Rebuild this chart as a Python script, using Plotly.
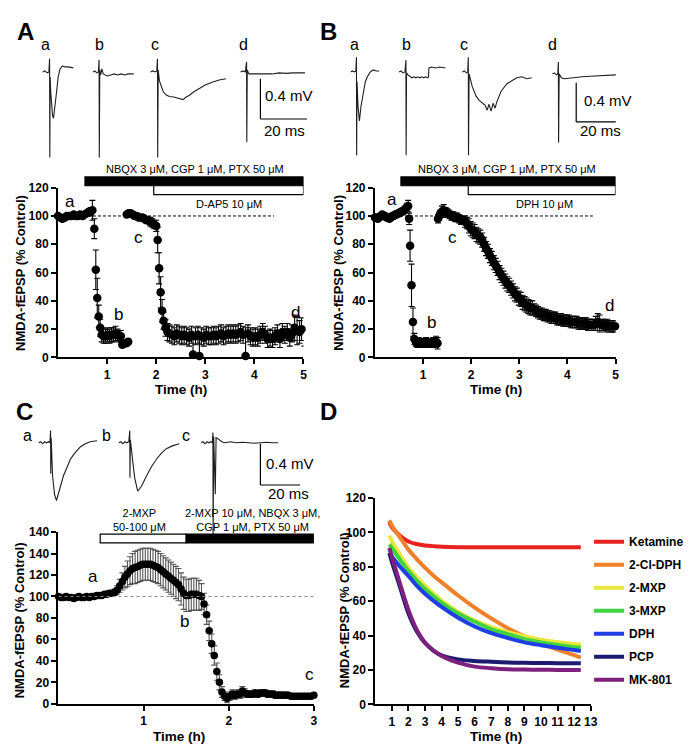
import plotly.graph_objects as go

FONT = "Liberation Sans, Arial, sans-serif"
W, H = 693, 744

# ---------------- Panel A : NMDA-fEPSP time course (D-AP5) ----------------
A_t = [0.00, 0.05, 0.09, 0.14, 0.18, 0.23, 0.27, 0.32, 0.36, 0.41, 0.45, 0.50, 0.54, 0.59, 0.63, 0.67, 0.70,
       0.74, 0.77, 0.80, 0.83, 0.86, 0.89, 0.93, 0.97, 1.01, 1.05, 1.09, 1.13, 1.17, 1.21, 1.25, 1.28, 1.31, 1.35, 1.39, 1.43,
       1.40, 1.44, 1.48, 1.52, 1.56, 1.60, 1.64, 1.68, 1.72, 1.76, 1.80, 1.84, 1.88, 1.92, 1.96, 2.00, 2.03, 2.06, 2.09, 2.12, 2.15, 2.19, 2.23,
       2.27, 2.32, 2.37, 2.42, 2.47, 2.52, 2.57, 2.62, 2.67, 2.72, 2.75, 2.80, 2.85, 2.88, 2.92, 2.97, 3.02, 3.07, 3.12, 3.17,
       3.22, 3.27, 3.32, 3.37, 3.42, 3.47, 3.52, 3.57, 3.62, 3.67, 3.72, 3.77, 3.82, 3.87, 3.92, 3.97, 4.02, 4.07, 4.12, 4.17,
       4.22, 4.27, 4.32, 4.37, 4.42, 4.47, 4.52, 4.57, 4.62, 4.67, 4.72, 4.77, 4.82, 4.87, 4.92, 4.96, 5.02]
A_y = [100, 99, 98, 99, 100, 100, 100, 101, 100, 100, 101, 100, 101, 102, 103, 103, 104,
       91, 62, 42, 29, 21, 16, 15, 15, 16, 15, 16, 16, 17, 16, 15, 15, 9, 10, 10, 11,
       101, 102, 102, 101, 100, 100, 99, 99, 99, 98, 97, 97, 96, 95, 94, 93, 83, 63, 46, 33, 26, 21, 18,
       17, 16, 15, 17, 16, 15, 16, 15, 14, 16, 2, 15, 16, 1, 15, 14, 16, 15, 15, 16,
       15, 16, 17, 15, 16, 17, 16, 17, 16, 17, 18, 16, 1, 17, 15, 14, 15, 14, 16, 18,
       16, 13, 14, 13, 15, 17, 13, 18, 16, 18, 14, 17, 21, 19, 18, 20, 10]
A_e = [1, 1, 1.5, 1, 1, 1, 1, 1, 1, 1.5, 1.5, 2, 2, 2, 2, 3, 7,
       7, 14, 14, 8, 6, 5, 5, 5, 5, 5, 5, 5, 5, 4, 4, 4, 2, 2, 2, 2,
       1.5, 1.5, 1.5, 2, 2, 2, 2, 2, 2, 2, 2, 2, 3, 3, 3, 4, 9, 11, 11, 8, 6, 6, 6,
       6, 6, 6, 6, 6, 6, 6, 6, 6, 6, 14, 6, 6, 13, 6, 6, 6, 6, 6, 6,
       6, 6, 6, 6, 6, 6, 6, 6, 6, 6, 6, 6, 20, 6, 6, 6, 6, 6, 6, 6,
       6, 6, 6, 6, 6, 6, 6, 6, 6, 6, 6, 6, 9, 10, 8, 8, 2]

# ---------------- Panel B : NMDA-fEPSP time course (DPH) ----------------
B_t = [0.00, 0.03, 0.06, 0.09, 0.12, 0.15, 0.18, 0.21, 0.24, 0.27, 0.30, 0.33, 0.36, 0.39, 0.42, 0.45, 0.48, 0.51, 0.54, 0.57, 0.60, 0.63, 0.66, 0.69,
       0.71, 0.73, 0.76, 0.79, 0.82, 0.85, 0.88, 0.91, 0.94, 0.97, 1.00, 1.03, 1.06, 1.09, 1.12, 1.15, 1.18, 1.21, 1.24, 1.27, 1.30,
       1.31, 1.35, 1.39, 1.43, 1.47, 1.51, 1.55, 1.59, 1.63, 1.67, 1.71, 1.75, 1.79, 1.83, 1.87, 1.91, 1.95, 1.99, 2.03, 2.07,
       2.11, 2.15, 2.19, 2.23, 2.27, 2.31, 2.35, 2.39, 2.43, 2.47, 2.51, 2.55, 2.59, 2.63, 2.67, 2.71, 2.75, 2.79, 2.83, 2.87,
       2.91, 2.95, 2.99, 3.03, 3.07, 3.11, 3.15, 3.19, 3.23, 3.27, 3.31, 3.35, 3.39, 3.43, 3.47, 3.51, 3.55, 3.59, 3.63, 3.67,
       3.71, 3.75, 3.79, 3.83, 3.87, 3.91, 3.95, 3.99, 4.03, 4.07, 4.11, 4.15, 4.19, 4.23, 4.27, 4.31, 4.35, 4.39, 4.43, 4.47,
       4.51, 4.55, 4.59, 4.63, 4.67, 4.71, 4.75, 4.79, 4.83, 4.87, 4.91, 4.95, 4.99]
B_y = [99, 99, 98, 99, 100, 101, 100, 100, 99, 99, 98, 99, 100, 100, 101, 101, 102, 102, 103, 103, 104, 105, 106, 107,
       98, 79, 51, 25, 13, 11, 10, 11, 10, 10, 10, 10, 11, 10, 10, 10, 10, 11, 10, 11, 10,
       98, 101, 103, 104, 103, 102, 101, 100, 100, 99, 99, 98, 97, 97, 96, 95, 93, 91, 90, 89,
       87, 86, 85, 83, 80, 77, 75, 72, 70, 67, 65, 63, 60, 58, 56, 54, 52, 51, 49, 47,
       45, 44, 42, 41, 39, 38, 37, 36, 35, 35, 34, 33, 32, 31, 31, 30, 30, 29, 29, 28,
       28, 28, 27, 27, 27, 26, 26, 26, 26, 25, 25, 25, 25, 24, 24, 24, 24, 24, 23, 23,
       23, 23, 24, 25, 24, 23, 23, 22, 23, 22, 22, 22, 22]
B_e = [1, 1, 1, 1, 1, 1, 1, 1, 1, 1, 1, 1, 1, 1, 1, 1, 1.5, 1.5, 2, 2, 2, 2, 3, 4,
       4, 11, 15, 10, 4, 3, 3, 3, 3, 3, 3, 3, 3, 3, 3, 3, 3, 3, 3, 4, 4,
       3, 3, 4, 4, 3, 3, 3, 3, 3, 3, 3, 3, 3, 3, 4, 4, 5, 5, 5, 5,
       5, 5, 5, 5, 5, 5, 5, 5, 5, 5, 5, 5, 5, 5, 5, 5, 5, 5, 5, 5,
       5, 5, 5, 5, 5, 5, 5, 5, 5, 5, 4, 4, 4, 4, 4, 4, 4, 4, 4, 4,
       4, 4, 4, 4, 4, 4, 4, 4, 4, 4, 4, 4, 4, 4, 4, 4, 4, 4, 4, 4,
       4, 4, 5, 6, 6, 4, 4, 4, 4, 4, 4, 4, 4]

# ---------------- Panel C : NMDA-fEPSP time course (2-MXP) ----------------
C_t = [0.00, 0.03, 0.06, 0.09, 0.12, 0.15, 0.18, 0.21, 0.24, 0.27, 0.30, 0.33, 0.36, 0.39, 0.42, 0.45, 0.48, 0.51, 0.54, 0.57,
       0.60, 0.63, 0.66, 0.69, 0.72, 0.75, 0.78, 0.81, 0.84, 0.87, 0.90, 0.93, 0.96, 0.99, 1.02, 1.05, 1.08, 1.11, 1.14, 1.17,
       1.20, 1.23, 1.26, 1.29, 1.32, 1.35, 1.38, 1.41, 1.44, 1.47, 1.50, 1.53, 1.56, 1.59, 1.62, 1.65, 1.68, 1.71, 1.74, 1.77,
       1.80, 1.83, 1.86, 1.89, 1.92, 1.95, 1.98, 2.01, 2.04, 2.07, 2.10, 2.13, 2.16, 2.19, 2.22, 2.25, 2.28, 2.31, 2.34, 2.37,
       2.40, 2.43, 2.46, 2.49, 2.52, 2.55, 2.58, 2.61, 2.64, 2.67, 2.70, 2.73, 2.76, 2.79, 2.82, 2.85, 2.88, 2.91, 2.94, 2.97, 3.00]
C_y = [100, 99, 99, 100, 99, 99, 98, 99, 100, 99, 99, 100, 99, 100, 100, 101, 101, 101, 102, 102,
       103, 103, 104, 106, 110, 114, 118, 121, 124, 126, 127, 128, 129, 130, 130, 130, 130, 129, 128, 127,
       125, 123, 121, 119, 117, 115, 113, 111, 107, 103, 101, 101, 102, 102, 102, 101, 100, 93, 83, 68,
       56, 45, 30, 20, 11, 7, 5, 7, 9, 8, 9, 9, 12, 10, 9, 9, 9, 10, 9, 10,
       10, 10, 9, 9, 9, 8, 8, 8, 8, 8, 8, 7, 7, 7, 7, 7, 7, 7, 7, 7, 8]
C_e = [1.5, 1.5, 1.5, 1.5, 1.5, 1.5, 1.5, 1.5, 1.5, 1.5, 1.5, 1.5, 1.5, 1.5, 1.5, 1.5, 1.5, 1.5, 2, 2,
       2, 2, 3, 4, 6, 8, 10, 12, 13, 14, 15, 15, 15, 15, 15, 15, 15, 15, 15, 15,
       15, 15, 15, 15, 15, 15, 15, 15, 15, 15, 15, 15, 15, 15, 15, 14, 12, 10, 9, 9,
       9, 9, 8, 7, 5, 4, 4, 4, 4, 4, 4, 4, 4, 4, 3, 3, 3, 3, 3, 3,
       3, 3, 3, 3, 3, 3, 3, 3, 3, 3, 2, 2, 2, 2, 2, 2, 2, 2, 2, 2, 2]

# ---------------- Panel D : fitted decay curves ----------------
D_t = [0.85, 1, 1.5, 2, 2.5, 3, 3.5, 4, 5, 6, 7, 8, 9, 10, 11, 12, 12.4]
D_names = ["Ketamine", "2-Cl-DPH", "2-MXP", "3-MXP", "DPH", "PCP", "MK-801"]
D_ketamine = [106, 103, 98, 94.7, 93.2, 92.4, 92, 91.7, 91.4, 91.3, 91.3, 91.3, 91.3, 91.3, 91.3, 91.3, 91.3]
D_cldph = [107, 104, 97, 90, 84.5, 79.5, 75, 71, 63.3, 56.3, 50, 44.3, 39.6, 35.4, 31.9, 28.7, 27.2]
D_2mxp = [98, 95, 87, 79.5, 74, 69, 64.5, 60.4, 53.8, 48.7, 44.9, 42, 39.6, 37.6, 36.1, 35.2, 34.8]
D_3mxp = [93, 91, 84, 77.5, 72, 67.1, 63, 59.1, 52.8, 48.1, 43.7, 40.9, 38, 36.1, 34.6, 33.3, 32.9]
D_dph = [88, 86, 80, 74.7, 69, 64.3, 60.3, 56.7, 50.4, 45.3, 41.4, 38.6, 36.1, 34.4, 32.9, 31.6, 31]
D_pcp = [88, 83, 68, 53, 42.5, 35.7, 31.3, 28.5, 26.2, 25.3, 24.8, 24.4, 24.2, 24.1, 24, 24, 24]
D_mk801 = [91, 86, 70, 55, 43.5, 36, 31.5, 28.2, 24.3, 22, 21.1, 20.5, 20.3, 20.2, 20.1, 20.1, 20.1]
D_colors = ["#e8231f", "#f0812a", "#e6e63c", "#3fd43f", "#1f3fe6", "#1b1b70", "#7d217d"]

# ---------------- example traces (ms after stimulus, mV from baseline) ----------------
A_wave_t = [
    [-3, -2, -1, -0.3, 0, 0.1, 0.25, 0.5, 0.9, 1.3, 1.7, 2.2, 3, 3.7, 4.5, 5.5, 6.5, 8, 10.2],
    [-2.6, -1.8, -1, -0.3, 0, 0.1, 0.3, 0.7, 1.2, 1.8, 2.5, 3.5, 5, 6.5, 8, 9.5, 11, 12.5, 14.9],
    [-3, -2, -1, -0.3, 0, 0.1, 0.3, 0.85, 1.7, 2.55, 3.8, 5.1, 7, 9, 11, 12.3, 13.6, 15.5, 17.9, 20.5, 23.8, 26.5, 29.4],
    [-2.6, -1.5, -0.5, 0, 0.1, 0.3, 1, 2, 3, 5, 8, 11, 14, 17, 20, 23, 25.1]]
A_wave_v = [
    [0, 0.01, -0.01, 0, 0.13, -0.85, -0.05, -0.2, -0.35, -0.44, -0.46, -0.38, -0.2, -0.05, 0.03, 0.06, 0.05, 0.05, 0.04],
    [0, 0.01, -0.01, 0, 0.12, -0.85, 0.02, -0.03, 0.03, -0.02, -0.03, -0.04, -0.03, -0.02, -0.03, -0.02, -0.03, -0.02, -0.02],
    [0, 0.01, 0, 0.01, 0.13, -0.85, 0.02, -0.09, -0.15, -0.2, -0.23, -0.245, -0.25, -0.26, -0.275, -0.25, -0.235, -0.2, -0.165, -0.13, -0.1, -0.08, -0.068],
    [0, 0.01, 0, 0.1, -0.7, 0.02, -0.02, -0.02, -0.015, -0.02, -0.015, -0.02, -0.01, -0.015, -0.01, -0.01, -0.01]]
B_wave_t = [
    [-3, -2, -1, -0.3, 0, 0.1, 0.3, 0.8, 1.5, 2.3, 3.5, 4.5, 5.5, 7, 8.5, 10, 11.5],
    [-3.5, -2.5, -1.5, -0.5, 0, 0.1, 0.3, 1, 2, 3, 4, 5, 6, 7, 8, 9, 10, 11, 11.4, 11.6, 13, 15, 17, 20],
    [-3, -2, -1, -0.3, 0, 0.1, 0.4, 1, 2, 3, 4, 5.5, 7, 8.5, 9.5, 10.5, 11.5, 12.5, 13.5, 14.5, 16.5, 18, 19.5, 22, 24.5, 27, 29.5, 32],
    [-3, -2, -1, -0.3, 0, 0.1, 0.4, 1.5, 3, 5, 8, 12, 16, 20, 24, 29]]
B_wave_v = [
    [0, 0.01, 0, 0.01, 0.15, -0.85, -0.1, -0.35, -0.5, -0.35, -0.19, -0.1, -0.05, 0, 0.02, 0.01, 0.01],
    [0, 0.01, -0.01, 0, 0.12, -0.85, -0.01, -0.03, -0.05, -0.06, -0.05, -0.06, -0.05, -0.06, -0.05, -0.06, -0.05, -0.06, -0.05, 0.04, 0.05, 0.04, 0.05, 0.04],
    [0, 0.01, -0.01, 0, 0.15, -0.85, -0.02, -0.08, -0.15, -0.2, -0.25, -0.29, -0.32, -0.34, -0.39, -0.33, -0.4, -0.32, -0.37, -0.3, -0.2, -0.16, -0.12, -0.09, -0.06, -0.05, -0.07, -0.06],
    [0, 0.01, -0.01, 0, 0.12, -0.7, 0, -0.04, -0.05, -0.045, -0.035, -0.03, -0.025, -0.02, -0.015, -0.01]]
C_wave_t = [
    [-6, -5, -4, -3, -2, -1, -0.3, 0, 0.1, 0.3, 1, 2, 3, 5, 6.5, 8.5, 10, 12, 15, 17.5, 20, 23.5],
    [-5.5, -4.5, -3.5, -2.5, -1.5, -0.5, 0, 0.1, 0.3, 1.5, 2.5, 4, 6, 8.5, 11, 13.5, 16, 18.5, 21.5, 25],
    [-6, -5, -4, -3, -2, -1, -0.3, 0, 0.1, 0.4, 1.2, 1.6, 2.5, 3.5, 4.5, 6, 9, 12, 15, 18, 21, 24, 27, 30, 33]]
C_wave_v = [
    [0, 0.01, -0.01, 0.01, 0, 0.01, 0, 0.12, -0.3, 0.05, -0.32, -0.5, -0.56, -0.42, -0.32, -0.23, -0.16, -0.105, -0.04, -0.01, 0.01, 0.02],
    [0, 0.01, -0.01, 0.01, 0, 0.01, 0.12, -0.34, 0.03, -0.18, -0.34, -0.47, -0.42, -0.32, -0.23, -0.16, -0.1, -0.057, -0.03, -0.01],
    [0, 0.01, -0.01, 0.01, 0, 0.01, 0, 0.1, -0.92, 0.06, -0.5, 0.05, 0.04, 0.02, 0.01, 0, 0.01, 0, 0.005, 0, -0.005, 0, 0.005, 0, 0]]
TRACE_LABELS_ABCD = ["a", "b", "c", "d"]
SCALE_MV, SCALE_MS = 0.4, 20

# ---------------- layout helpers (pixel positions) ----------------
def fx(px):
    return px / W


def fy(py):
    return 1 - py / H


fig = go.Figure()


def add_series(t, y, e, xa, ya, size, ecolor, ewidth):
    fig.add_trace(go.Scatter(
        x=t, y=y, mode="markers", marker=dict(color="black", size=size, line=dict(width=0)),
        error_y=dict(type="data", array=e, arrayminus=[min(a, b) for a, b in zip(e, y)],
                     color=ecolor, thickness=1.1, width=ewidth),
        xaxis=xa, yaxis=ya, showlegend=False, cliponaxis=False, hoverinfo="skip"))


add_series(A_t, A_y, A_e, "x", "y", 8.5, "black", 3)
add_series(B_t, B_y, B_e, "x2", "y2", 8.5, "black", 3)
add_series(C_t, C_y, C_e, "x3", "y3", 7.5, "#555555", 3)

for name, vals, col in zip(D_names, [D_ketamine, D_cldph, D_2mxp, D_3mxp, D_dph, D_pcp, D_mk801], D_colors):
    fig.add_trace(go.Scatter(x=D_t, y=vals, mode="lines", name=name, legendgroup=name,
                             line=dict(color=col, width=4, shape="spline", smoothing=1.0),
                             xaxis="x4", yaxis="y4", hoverinfo="skip"))

# insets: (axis ids, pixel box, px per ms, px per mV, baseline py, stimulus px, baseline py per trace, scale corner)
INSETS = [
    dict(xa="x5", ya="y5", box=(0, 346, 0, 160), pms=2.35, pmv=102.5, base=58,
         art=[42, 92, 151, 241], bases=[58, 58, 58, 58], corner=(255, 106),
         labels=[(38, 30), (92, 30), (148, 30), (238, 30)], mvtxt=(258, 82), mstxt=(279, 118),
         t=A_wave_t, v=A_wave_v),
    dict(xa="x6", ya="y6", box=(346, 693, 0, 160), pms=2.0, pmv=100, base=58,
         art=[352, 402, 465, 556], bases=[58, 58, 58, 60], corner=(574, 109),
         labels=[(350, 30), (403, 30), (461, 30), (550, 30)], mvtxt=(580, 87), mstxt=(599, 118),
         t=B_wave_t, v=B_wave_v),
    dict(xa="x7", ya="y7", box=(0, 346, 395, 545), pms=2.0, pmv=105, base=436,
         art=[43, 123, 207], bases=[436, 436, 436], corner=(255, 479),
         labels=[(20, 429), (99, 429), (180, 429)], mvtxt=(259, 457), mstxt=(283, 488),
         t=C_wave_t, v=C_wave_v),
]

annotations = []
shapes = []


def ann(text, px, py, size, bold=False, xanchor="center", yanchor="middle", angle=0):
    annotations.append(dict(text=text, x=fx(px), y=fy(py), xref="paper", yref="paper", showarrow=False,
                            xanchor=xanchor, yanchor=yanchor, textangle=angle,
                            font=dict(family=FONT, size=size, color="black", weight="bold" if bold else "normal")))


layout_axes = {}
for ins in INSETS:
    x0, x1, y0, y1 = ins["box"]
    xnum, ynum = ins["xa"][1:], ins["ya"][1:]
    layout_axes["xaxis" + xnum] = dict(domain=[fx(x0), fx(x1)], range=[0, (x1 - x0) / ins["pms"]],
                                       visible=False, anchor=ins["ya"], fixedrange=True)
    layout_axes["yaxis" + ynum] = dict(domain=[fy(y1), fy(y0)],
                                       range=[-(y1 - ins["base"]) / ins["pmv"], (ins["base"] - y0) / ins["pmv"]],
                                       visible=False, anchor=ins["xa"], fixedrange=True)
    for k, (tt, vv) in enumerate(zip(ins["t"], ins["v"])):
        xo = (ins["art"][k] - x0) / ins["pms"]
        vo = -(ins["bases"][k] - ins["base"]) / ins["pmv"]
        fig.add_trace(go.Scatter(x=[xo + a for a in tt], y=[vo + b for b in vv], mode="lines",
                                 line=dict(color="#1e1e1e", width=1.1), xaxis=ins["xa"], yaxis=ins["ya"],
                                 showlegend=False, hoverinfo="skip"))
        lx, ly = ins["labels"][k]
        ann(TRACE_LABELS_ABCD[k], lx, ly, 16)
    cx = (ins["corner"][0] - x0) / ins["pms"]
    cy = -(ins["corner"][1] - ins["base"]) / ins["pmv"]
    shapes.append(dict(type="line", xref=ins["xa"], yref=ins["ya"], x0=cx, x1=cx, y0=cy, y1=cy + SCALE_MV,
                       line=dict(color="black", width=1.2)))
    shapes.append(dict(type="line", xref=ins["xa"], yref=ins["ya"], x0=cx, x1=cx + SCALE_MS, y0=cy, y1=cy,
                       line=dict(color="black", width=1.2)))
    ann("%.1f mV" % SCALE_MV, ins["mvtxt"][0], ins["mvtxt"][1], 15, xanchor="left")
    ann("%d ms" % SCALE_MS, ins["mstxt"][0], ins["mstxt"][1], 15)

AX = dict(showline=True, linewidth=2, linecolor="black", ticks="outside", ticklen=5, tickwidth=2,
          tickcolor="black", showgrid=False, zeroline=False, fixedrange=True,
          tickfont=dict(family=FONT, size=12, color="black", weight="bold"))

layout_axes["xaxis"] = dict(AX, domain=[fx(50.5), fx(298.5)], range=[0, 5], tickvals=[1, 2, 3, 4, 5], anchor="y")
layout_axes["yaxis"] = dict(AX, domain=[fy(349), fy(176)], range=[0, 120], tickvals=list(range(0, 121, 20)), anchor="x")
layout_axes["xaxis2"] = dict(AX, domain=[fx(370.7), fx(613.7)], range=[0, 5], tickvals=[1, 2, 3, 4, 5], anchor="y2")
layout_axes["yaxis2"] = dict(AX, domain=[fy(349), fy(176)], range=[0, 120], tickvals=list(range(0, 121, 20)), anchor="x2")
layout_axes["xaxis3"] = dict(AX, domain=[fx(51), fx(309)], range=[0, 3], tickvals=[1, 2, 3], anchor="y3")
layout_axes["yaxis3"] = dict(AX, domain=[fy(702), fy(527)], range=[0, 160], tickvals=list(range(0, 161, 20)),
                             ticktext=["0", "20", "40", "60", "80", "100", "120", "140", "140"], anchor="x3")
layout_axes["xaxis4"] = dict(AX, domain=[fx(371), fx(588.7)], range=[0, 13], tickvals=list(range(1, 14)), anchor="y4")
layout_axes["yaxis4"] = dict(AX, domain=[fy(702.7), fy(492.2)], range=[0, 120], tickvals=list(range(0, 121, 20)), anchor="x4")

# drug application bars (x in hours, y in pixels)
def bar(xa, t0, t1, py0, py1, fill):
    shapes.append(dict(type="rect", xref=xa, yref="paper", x0=t0, x1=t1, y0=fy(py1), y1=fy(py0),
                       fillcolor=fill, line=dict(color="black", width=1.2), layer="above"))


bar("x", 0.55, 5.0, 165, 174, "black")
bar("x", 1.95, 5.0, 174, 183, "white")
bar("x2", 0.54, 5.0, 165, 174, "black")
bar("x2", 1.94, 5.0, 174, 183, "white")
bar("x3", 0.49, 1.5, 529, 538, "white")
bar("x3", 1.5, 3.0, 529, 538, "black")

# 100 % reference lines
shapes.append(dict(type="line", xref="x", yref="y", x0=0, x1=4.4, y0=100, y1=100, line=dict(color="black", width=1, dash="3px,2px")))
shapes.append(dict(type="line", xref="x2", yref="y2", x0=0, x1=4.53, y0=100, y1=100, line=dict(color="black", width=1, dash="3px,2px")))
shapes.append(dict(type="line", xref="x3", yref="y3", x0=0, x1=3.0, y0=100, y1=100, line=dict(color="#888888", width=1, dash="dot")))

# drug texts
ann("NBQX 3 μM, CGP 1 μM, PTX 50 μM", 189, 157, 11)
ann("D-AP5 10 μM", 223, 193, 11)
ann("NBQX 3 μM, CGP 1 μM, PTX 50 μM", 504, 157, 11)
ann("DPH 10 μM", 542, 193, 11)
ann("2-MXP<br>50-100 μM", 133, 515, 11)
ann("2-MXP 10 μM, NBQX 3 μM,<br>CGP 1 μM, PTX 50 μM", 247, 515, 11)

# in-plot trace markers (data coordinates)
PT_LABELS = [("x", "y", [("a", 0.25, 110), ("b", 1.24, 30), ("c", 1.64, 85), ("d", 4.84, 32)]),
             ("x2", "y2", [("a", 0.36, 112), ("b", 1.18, 25), ("c", 1.61, 85), ("d", 4.87, 36.5)]),
             ("x3", "y3", [("a", 0.40, 119), ("b", 1.48, 77), ("c", 2.95, 27.5)])]
for xa, ya, items in PT_LABELS:
    for txt, xv, yv in items:
        annotations.append(dict(text=txt, x=xv, y=yv, xref=xa, yref=ya, showarrow=False,
                                font=dict(family=FONT, size=17, color="black")))

# panel letters
for L, px, py in [("A", 18, 17), ("B", 324, 17), ("C", 17, 404), ("D", 324, 404)]:
    ann(L, px, py, 24, bold=True)

# axis titles
YT = "NMDA-fEPSP (% Control)"
ann(YT, 12, 263, 13, bold=True, angle=-90)
ann(YT, 333, 263, 13, bold=True, angle=-90)
ann(YT, 12, 617, 13, bold=True, angle=-90)
ann(YT, 340, 607, 13, bold=True, angle=-90)
for px, py in [(175, 382), (493, 382), (173, 735), (493, 735)]:
    ann("Time (h)", px, py, 13.5, bold=True)

fig.update_layout(
    width=W, height=H, margin=dict(l=0, r=0, t=0, b=0),
    paper_bgcolor="white", plot_bgcolor="rgba(0,0,0,0)",
    font=dict(family=FONT, color="black"),
    showlegend=True,
    legend=dict(x=fx(587), y=fy(522), xanchor="left", yanchor="top", bgcolor="rgba(0,0,0,0)",
                font=dict(family=FONT, size=12, color="black", weight="bold"), tracegroupgap=4,
                itemclick=False, itemdoubleclick=False),
    annotations=annotations, shapes=shapes, **layout_axes)

fig.write_html("out.html")
